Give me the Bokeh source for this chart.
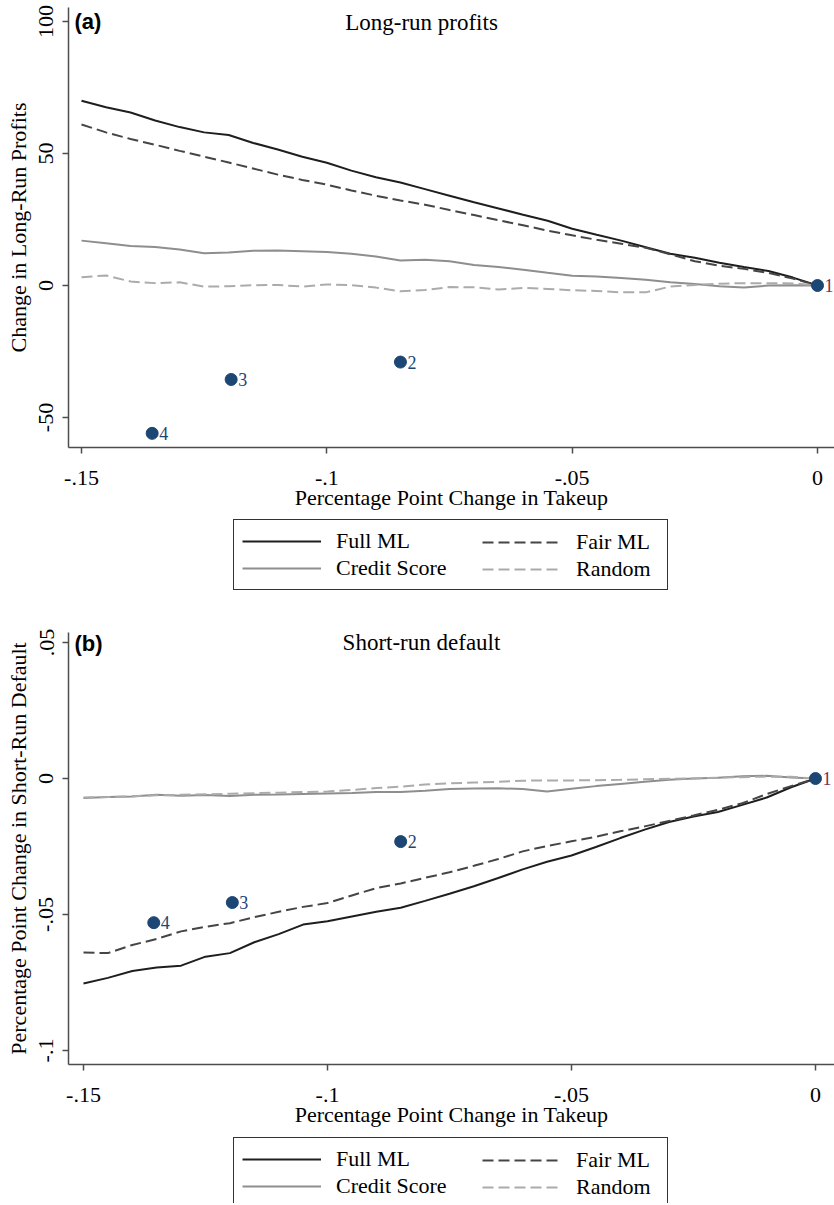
from bokeh.plotting import figure
from bokeh.models import (Legend, LegendItem, Label, FixedTicker, Range1d,
                          ColumnDataSource)
from bokeh.layouts import column
from bokeh.embed import file_html
from bokeh.resources import INLINE
from bokeh.core.properties import value

# ---------------- data ----------------
takeup = [-0.150, -0.145, -0.140, -0.135, -0.130, -0.125, -0.120, -0.115,
          -0.110, -0.105, -0.100, -0.095, -0.090, -0.085, -0.080, -0.075,
          -0.070, -0.065, -0.060, -0.055, -0.050, -0.045, -0.040, -0.035,
          -0.030, -0.025, -0.020, -0.015, -0.010, -0.005, 0.000]

# Panel (a): change in long-run profits
a_full_ml = [70.0, 67.5, 65.5, 62.5, 60.0, 58.0, 57.0, 54.0, 51.5, 48.8, 46.5,
             43.5, 41.0, 39.0, 36.5, 34.0, 31.5, 29.2, 26.8, 24.5, 21.5, 19.2,
             17.0, 14.5, 12.0, 10.5, 8.6, 7.0, 5.5, 3.0, 0.0]
a_fair_ml = [61.0, 58.0, 55.5, 53.3, 51.0, 48.8, 46.6, 44.3, 42.0, 40.0, 38.2,
             36.0, 34.0, 32.2, 30.6, 28.6, 26.7, 24.7, 22.8, 20.8, 19.0, 17.3,
             15.8, 14.3, 11.8, 9.2, 7.5, 6.3, 4.8, 2.6, 0.0]
a_credit = [17.0, 16.0, 15.0, 14.6, 13.6, 12.2, 12.5, 13.2, 13.3, 13.0, 12.7,
            12.0, 11.0, 9.5, 9.8, 9.2, 7.8, 7.0, 6.0, 4.8, 3.7, 3.4, 2.8, 2.2,
            1.2, 0.6, -0.3, -0.8, 0.0, 0.1, 0.0]
a_random = [3.1, 3.8, 1.5, 0.9, 1.2, -0.4, -0.3, 0.1, 0.2, -0.4, 0.4, 0.1,
            -0.8, -2.2, -1.7, -0.6, -0.7, -1.5, -0.9, -1.3, -1.8, -2.1, -2.6,
            -2.6, -0.4, 0.2, 0.7, 0.9, 0.9, 0.8, 0.0]

# Panel (b): percentage point change in short-run default
b_full_ml = [-0.0754, -0.0733, -0.0708, -0.0695, -0.0688, -0.0655, -0.0642,
             -0.0602, -0.0572, -0.0537, -0.0525, -0.0507, -0.0490, -0.0475,
             -0.0450, -0.0424, -0.0396, -0.0366, -0.0334, -0.0306, -0.0283,
             -0.0252, -0.0219, -0.0188, -0.0160, -0.0140, -0.0123, -0.0097,
             -0.0070, -0.0032, 0.0]
b_fair_ml = [-0.0640, -0.0642, -0.0612, -0.0590, -0.0562, -0.0545, -0.0532,
             -0.0510, -0.0490, -0.0472, -0.0458, -0.0430, -0.0403, -0.0386,
             -0.0365, -0.0345, -0.0321, -0.0296, -0.0268, -0.0248, -0.0231,
             -0.0214, -0.0194, -0.0176, -0.0156, -0.0136, -0.0115, -0.0091,
             -0.0057, -0.0028, 0.0]
b_credit = [-0.0072, -0.0068, -0.0066, -0.0060, -0.0063, -0.0061, -0.0064,
            -0.0060, -0.0059, -0.0057, -0.0055, -0.0053, -0.0050, -0.0050,
            -0.0045, -0.0039, -0.0037, -0.0036, -0.0039, -0.0048, -0.0038,
            -0.0028, -0.0020, -0.0012, -0.0005, 0.0000, 0.0003, 0.0008,
            0.0010, 0.0004, 0.0]
b_random = [-0.0070, -0.0068, -0.0065, -0.0062, -0.0060, -0.0058, -0.0056,
            -0.0054, -0.0052, -0.0050, -0.0048, -0.0042, -0.0035, -0.0030,
            -0.0022, -0.0018, -0.0015, -0.0012, -0.0008, -0.0007, -0.0007,
            -0.0006, -0.0005, -0.0003, -0.0001, 0.0000, 0.0003, 0.0005,
            0.0007, 0.0006, 0.0]

# Numbered comparison points
point_labels = ["1", "2", "3", "4"]
point_x = [0.0, -0.085, -0.1195, -0.1356]
a_point_y = [0.0, -29.0, -35.6, -56.0]
b_point_y = [0.0, -0.0232, -0.0456, -0.0530]

x_ticks = [-0.15, -0.10, -0.05, 0.0]
x_tick_labels = ["-.15", "-.1", "-.05", "0"]
a_y_ticks = [-50, 0, 50, 100]
a_y_tick_labels = ["-50", "0", "50", "100"]
b_y_ticks = [-0.10, -0.05, 0.0, 0.05]
b_y_tick_labels = ["-.1", "-.05", "0", ".05"]

series_names = ["Full ML", "Fair ML", "Credit Score", "Random"]

# ---------------- styling ----------------
SERIF = "Liberation Serif"
AXIS_COL = "#4d4d4d"
POINT_COL = "#1c4673"
LABEL1_COL = "#7b2d4a"
STYLES = {
    "Full ML": dict(line_color="#1e1e1e", line_width=2.0, line_dash="solid"),
    "Fair ML": dict(line_color="#454545", line_width=2.0, line_dash="11 5"),
    "Credit Score": dict(line_color="#8e8e8e", line_width=2.0, line_dash="solid"),
    "Random": dict(line_color="#ababab", line_width=2.0, line_dash="11 5"),
}
W = 834
LEFT = 68


def make_panel(height, top, bottom, xr, yr, series, yticks, ylabels, ylab,
               pt_y, title, tag, title_y, tag_y):
    p = figure(width=W, height=height, x_range=Range1d(*xr),
               y_range=Range1d(*yr), output_backend="svg",
               toolbar_location=None, min_border_left=LEFT,
               min_border_right=0, min_border_top=top,
               min_border_bottom=bottom)
    p.outline_line_color = None
    p.grid.visible = False
    p.background_fill_color = "white"
    p.border_fill_color = "white"

    for ax in (p.xaxis, p.yaxis):
        ax.axis_line_color = AXIS_COL
        ax.axis_line_width = 1.5
        ax.major_tick_line_color = AXIS_COL
        ax.major_tick_line_width = 1.5
        ax.major_tick_out = 6
        ax.major_tick_in = 0
        ax.minor_tick_line_color = None
        ax.major_label_text_font = SERIF
        ax.major_label_text_font_size = "22px"
        ax.major_label_text_color = "black"
        ax.axis_label_text_font = SERIF
        ax.axis_label_text_font_size = "22px"
        ax.axis_label_text_font_style = "normal"
        ax.axis_label_text_color = "black"
    p.xaxis.ticker = FixedTicker(ticks=x_ticks)
    p.xaxis.major_label_overrides = dict(zip(x_ticks, x_tick_labels))
    p.xaxis.major_label_standoff = 17
    p.xaxis.axis_label = "Percentage Point Change in Takeup"
    p.xaxis.axis_label_standoff = -3
    p.yaxis.ticker = FixedTicker(ticks=yticks)
    p.yaxis.major_label_overrides = dict(zip(yticks, ylabels))
    p.yaxis.major_label_orientation = "vertical"
    p.yaxis.major_label_standoff = 9
    p.yaxis.axis_label = ylab
    p.yaxis.axis_label_standoff = 6

    for name, ys in zip(series_names, series):
        src = ColumnDataSource(dict(x=takeup, y=ys))
        p.line("x", "y", source=src, **STYLES[name])

    psrc = ColumnDataSource(dict(x=point_x, y=pt_y, t=point_labels,
                                 c=[LABEL1_COL] + [POINT_COL] * 3))
    p.scatter("x", "y", source=psrc, size=12, fill_color=POINT_COL,
              line_color=POINT_COL)
    p.text("x", "y", text="t", source=psrc, x_offset=7, text_baseline="middle",
           text_align="left", text_font=value(SERIF), text_font_size="18px",
           text_color="c")

    p.add_layout(Label(x=353, y=title_y, x_units="screen", y_units="screen",
                       text=title, text_align="center",
                       text_baseline="alphabetic", text_font=SERIF,
                       text_font_size="23px", text_color="black"))
    p.add_layout(Label(x=6, y=tag_y, x_units="screen", y_units="screen",
                       text=tag, text_align="left", text_baseline="alphabetic",
                       text_font="Liberation Sans", text_font_style="bold",
                       text_font_size="22px", text_color="black"))
    return p


def make_legend(height, box_y, series):
    """A legend-only strip placed under a panel (Stata-style legend box).
    The legend's line renderers hold the real series but lie far outside the
    visible range of this strip, so only their legend keys show."""
    p = figure(width=W, height=height, x_range=Range1d(1, 2),
               y_range=Range1d(1, 2), output_backend="svg",
               toolbar_location=None, min_border_left=LEFT,
               min_border_right=0, min_border_top=0, min_border_bottom=0,
               x_axis_type=None, y_axis_type=None)
    p.outline_line_color = None
    p.grid.visible = False
    rs = {}
    for name, ys in zip(series_names, series):
        rs[name] = p.line("x", "y", source=ColumnDataSource(dict(x=takeup, y=ys)),
                          **STYLES[name])
    common = dict(label_text_font=SERIF, label_text_font_size="22px",
                  label_text_color="black", glyph_width=79, glyph_height=22,
                  label_height=22, label_standoff=15, spacing=1, padding=8,
                  margin=0, orientation="vertical", border_line_width=1.5,
                  border_line_color="#333333")
    leg1 = Legend(items=[LegendItem(label="Full ML", renderers=[rs["Full ML"]]),
                         LegendItem(label="Credit Score", renderers=[rs["Credit Score"]])],
                  location=(233 - LEFT, box_y), label_width=323,
                  border_line_alpha=1.0,
                  background_fill_color="white", background_fill_alpha=1.0,
                  **common)
    leg2 = Legend(items=[LegendItem(label="Fair ML", renderers=[rs["Fair ML"]]),
                         LegendItem(label="Random", renderers=[rs["Random"]])],
                  location=(474 - LEFT, box_y), label_width=40,
                  border_line_alpha=0.0, background_fill_alpha=0.0,
                  **common)
    p.add_layout(leg1, "center")
    p.add_layout(leg2, "center")
    return p


pa = make_panel(518, 7, 71, (-0.15265, 0.003464), (-61.36, 105.30),
                [a_full_ml, a_fair_ml, a_credit, a_random],
                a_y_ticks, a_y_tick_labels, "Change in Long-Run Profits",
                a_point_y, "Long-run profits", "(a)", 425, 426)
la = make_legend(110, 38, [a_full_ml, a_fair_ml, a_credit, a_random])
pb = make_panel(508, 4, 72, (-0.15307, 0.003893), (-0.10515, 0.05368),
                [b_full_ml, b_fair_ml, b_credit, b_random],
                b_y_ticks, b_y_tick_labels,
                "Percentage Point Change in Short-Run Default",
                b_point_y, "Short-run default", "(b)", 422, 421)
lb = make_legend(67, -5, [b_full_ml, b_fair_ml, b_credit, b_random])

layout = column(pa, la, pb, lb)
open("out.html", "w").write(file_html(layout, INLINE))
